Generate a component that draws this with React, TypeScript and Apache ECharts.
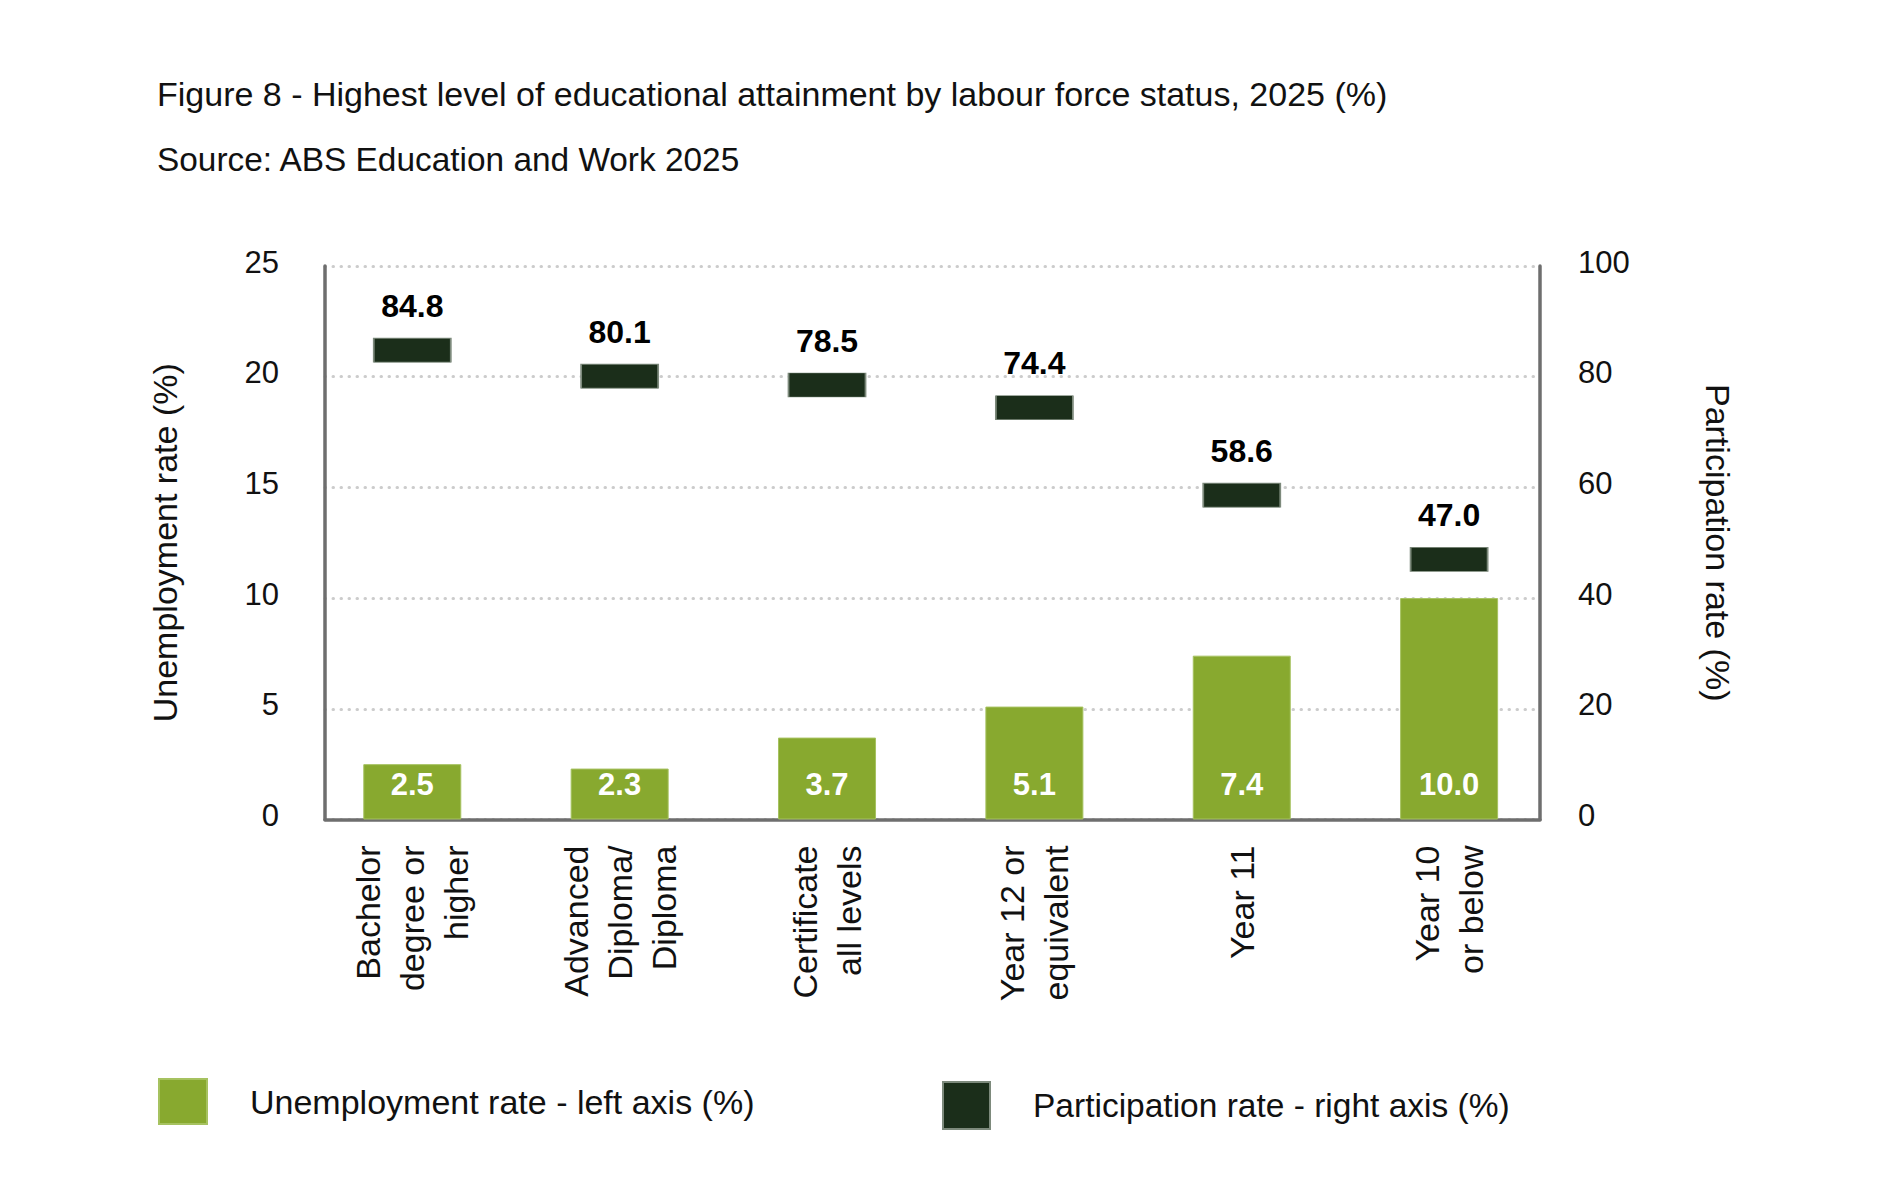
import React, { useEffect, useRef } from 'react';
import * as echarts from 'echarts';

const titleText = 'Figure 8 - Highest level of educational attainment by labour force status, 2025 (%)';
const sourceText = 'Source: ABS Education and Work 2025';

const categories = [
  'Bachelor\ndegree or\nhigher',
  'Advanced\nDiploma/\nDiploma',
  'Certificate\nall levels',
  'Year 12 or\nequivalent',
  'Year 11',
  'Year 10\nor below',
];
const unemploymentRate = [2.5, 2.3, 3.7, 5.1, 7.4, 10.0];
const participationRate = [84.8, 80.1, 78.5, 74.4, 58.6, 47.0];

const unemploymentName = 'Unemployment rate - left axis (%)';
const participationName = 'Participation rate - right axis (%)';
const leftAxisName = 'Unemployment rate (%)';
const rightAxisName = 'Participation rate (%)';

const leftAxisMin = 0;
const leftAxisMax = 25;
const leftAxisInterval = 5;
const rightAxisMin = 0;
const rightAxisMax = 100;
const rightAxisInterval = 20;

const FONT = 'Liberation Sans';
const GREEN = '#88a92f';
const DARK = '#1b2e1a';
const AXIS_GREY = '#6e6e6e';

export default function App() {
  const ref = useRef<HTMLDivElement>(null);

  useEffect(() => {
    if (!ref.current) return;
    const chart = echarts.init(ref.current, null, { renderer: 'svg' });

    const frameGrid = { left: 325, right: 350, top: 266, bottom: 361.5 };
    const barGrid = { left: 308.6, right: 337.2, top: 266, bottom: 361.5 };

    const tickRich = {
      t: { fontFamily: FONT, fontSize: 31, color: '#111', padding: [0, 0, 8, 0] },
    };

    const option: any = {
      animation: false,
      backgroundColor: '#ffffff',
      textStyle: { fontFamily: FONT },
      title: [
        {
          text: titleText,
          left: 152,
          top: 72,
          textStyle: { fontFamily: FONT, fontSize: 34, fontWeight: 'normal', color: '#111' },
        },
        {
          text: sourceText,
          left: 152,
          top: 138,
          textStyle: { fontFamily: FONT, fontSize: 33.4, fontWeight: 'normal', color: '#111' },
        },
      ],
      legend: [
        {
          data: [{ name: unemploymentName, icon: 'rect' }],
          left: 158,
          top: 1078,
          padding: 0,
          itemWidth: 48,
          itemHeight: 45,
          selectedMode: false,
          textStyle: { fontFamily: FONT, fontSize: 34, color: '#111', padding: [0, 0, 0, 38] },
        },
        {
          data: [{ name: participationName, icon: 'rect' }],
          left: 942,
          top: 1081,
          padding: 0,
          itemWidth: 47,
          itemHeight: 47,
          selectedMode: false,
          textStyle: { fontFamily: FONT, fontSize: 33.5, color: '#111', padding: [0, 0, 0, 38] },
        },
      ],
      grid: [frameGrid, barGrid],
      xAxis: [
        {
          type: 'category',
          gridIndex: 0,
          data: categories,
          axisLine: { show: true, lineStyle: { color: AXIS_GREY, width: 3.5 } },
          axisTick: { show: false },
          axisLabel: { show: false },
          splitLine: { show: false },
        },
        {
          type: 'category',
          gridIndex: 1,
          data: categories,
          axisLine: { show: false },
          axisTick: { show: false },
          axisLabel: {
            show: true,
            rotate: 90,
            margin: 26,
            interval: 0,
            fontFamily: FONT,
            fontSize: 34,
            lineHeight: 44,
            color: '#111',
            align: 'right',
          },
          splitLine: { show: false },
        },
      ],
      yAxis: [
        {
          type: 'value',
          gridIndex: 0,
          position: 'left',
          min: leftAxisMin,
          max: leftAxisMax,
          interval: leftAxisInterval,
          name: leftAxisName,
          nameLocation: 'middle',
          nameGap: 143,
          nameTextStyle: { fontFamily: FONT, fontSize: 34, color: '#111' },
          axisLine: { show: true, lineStyle: { color: AXIS_GREY, width: 3.5 } },
          axisTick: { show: false },
          axisLabel: {
            margin: 46,
            fontFamily: FONT,
            fontSize: 31,
            color: '#111',
            formatter: '{t|{value}}',
            rich: tickRich,
          },
          splitLine: {
            show: true,
            lineStyle: { color: '#cccccc', width: 3, type: [0.5, 7.5], cap: 'round' },
          },
        },
        {
          type: 'value',
          gridIndex: 0,
          position: 'right',
          min: rightAxisMin,
          max: rightAxisMax,
          interval: rightAxisInterval,
          name: rightAxisName,
          nameLocation: 'middle',
          nameRotate: -90,
          nameGap: 161,
          nameTextStyle: { fontFamily: FONT, fontSize: 34, color: '#111' },
          axisLine: { show: true, lineStyle: { color: AXIS_GREY, width: 3.5 } },
          axisTick: { show: false },
          axisLabel: {
            margin: 38,
            fontFamily: FONT,
            fontSize: 31,
            color: '#111',
            formatter: '{t|{value}}',
            rich: tickRich,
          },
          splitLine: { show: false },
        },
        {
          type: 'value',
          gridIndex: 1,
          show: false,
          min: leftAxisMin,
          max: leftAxisMax,
          interval: leftAxisInterval,
          splitLine: { show: false },
        },
        {
          type: 'value',
          gridIndex: 1,
          show: false,
          min: rightAxisMin,
          max: rightAxisMax,
          interval: rightAxisInterval,
          splitLine: { show: false },
        },
      ],
      series: [
        {
          name: unemploymentName,
          type: 'bar',
          xAxisIndex: 1,
          yAxisIndex: 2,
          data: unemploymentRate,
          barWidth: 98,
          itemStyle: { color: GREEN, borderColor: '#a6c260', borderWidth: 1 },
          label: {
            show: true,
            position: 'insideBottom',
            distance: 20,
            fontFamily: FONT,
            fontSize: 31,
            fontWeight: 'bold',
            color: '#ffffff',
            formatter: (p: any) => Number(p.value).toFixed(1),
          },
          z: 2,
        },
        {
          name: participationName,
          type: 'scatter',
          xAxisIndex: 1,
          yAxisIndex: 3,
          data: participationRate,
          symbol: 'rect',
          symbolSize: [77, 24],
          itemStyle: { color: DARK, borderColor: '#7d8a7c', borderWidth: 1, opacity: 1 },
          label: {
            show: true,
            position: 'top',
            distance: 16,
            fontFamily: FONT,
            fontSize: 32,
            fontWeight: 'bold',
            color: '#000000',
            formatter: (p: any) => Number(p.value).toFixed(1),
          },
          z: 3,
        },
      ],
    };

    chart.setOption(option);
    return () => chart.dispose();
  }, []);

  return (
    <div
      ref={ref}
      style={{ position: 'absolute', left: 0, top: 0, width: 1890, height: 1181, background: '#ffffff' }}
    />
  );
}
